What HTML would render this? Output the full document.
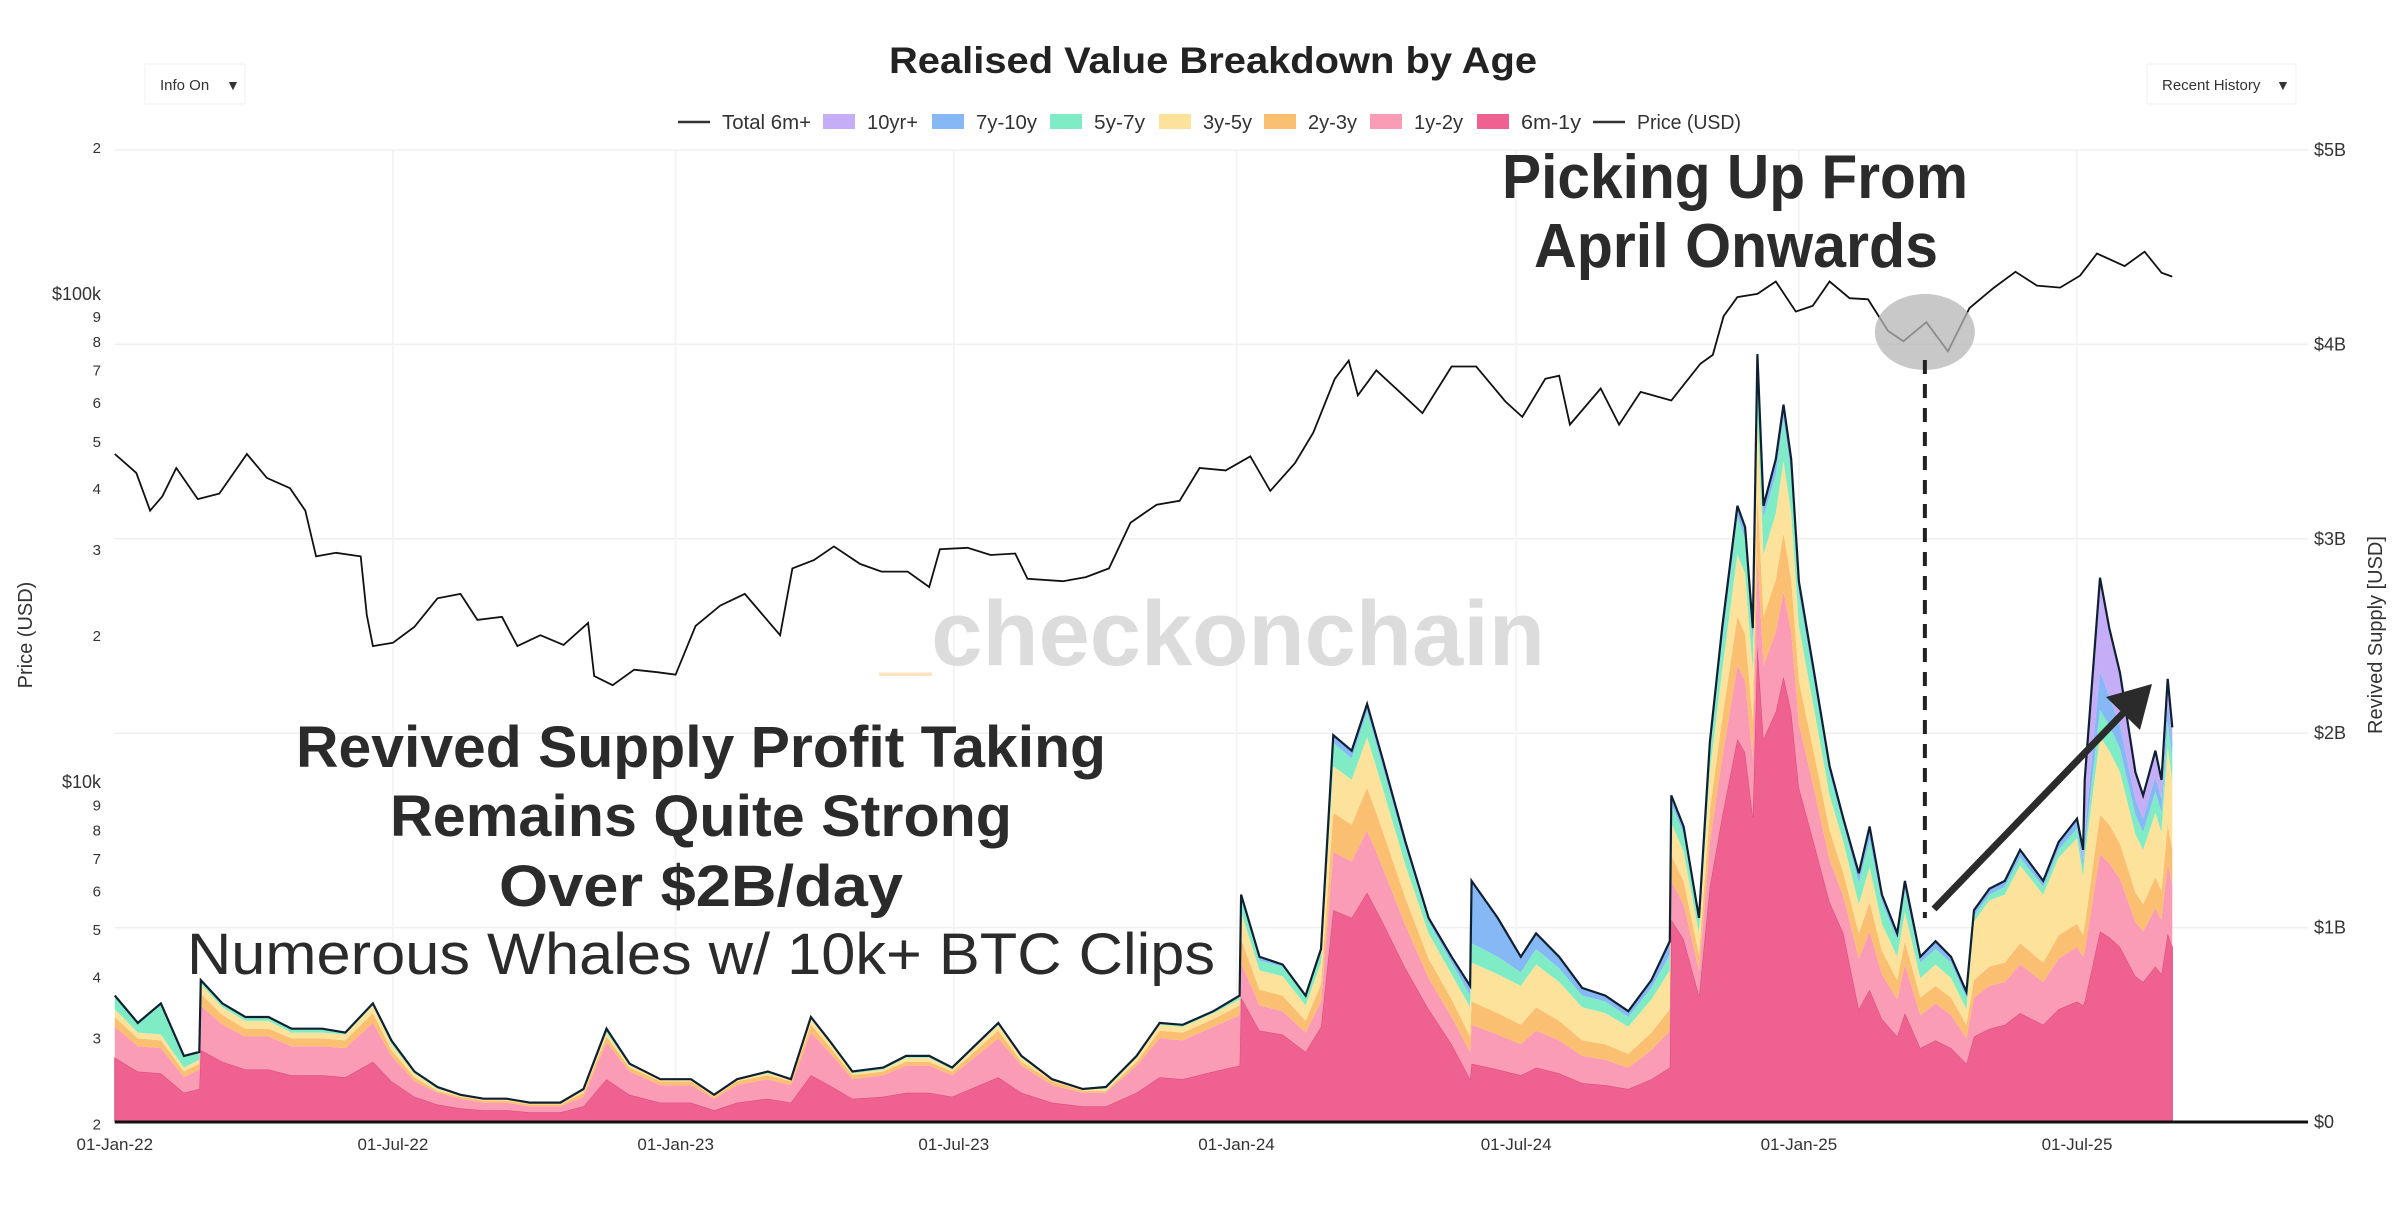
<!DOCTYPE html>
<html><head><meta charset="utf-8">
<style>
html,body{margin:0;padding:0;background:#fff;}
svg{display:block;font-family:"Liberation Sans",sans-serif;}
</style></head>
<body>
<svg id="chart" width="2400" height="1206" viewBox="0 0 2400 1206" xmlns="http://www.w3.org/2000/svg">
  <rect x="0" y="0" width="2400" height="1206" fill="#fff"/>
  <text x="1213" y="73" text-anchor="middle" font-size="37" font-weight="bold" fill="#222" textLength="648" lengthAdjust="spacingAndGlyphs">Realised Value Breakdown by Age</text>
  <g>
    <rect x="145" y="64" width="100" height="40" fill="#fff" stroke="#f2f2f2"/>
    <text x="160" y="90" font-size="15" fill="#333">Info On</text>
    <text x="226" y="90" font-size="14" fill="#333">▼</text>
  </g>
  <g>
    <rect x="2147" y="64" width="149" height="40" fill="#fff" stroke="#f2f2f2"/>
    <text x="2162" y="90" font-size="15" fill="#333">Recent History</text>
    <text x="2276" y="90" font-size="14" fill="#333">▼</text>
  </g>
  <g id="legend"></g>
  <g id="grid"></g>
  <text x="880" y="665" font-size="92" font-weight="bold" fill="#dcdcdc" textLength="665" lengthAdjust="spacingAndGlyphs"><tspan fill="#fde3c0">_</tspan>checkonchain</text>
  <g id="areas"></g>
  <g id="lines"></g>
  <g id="axes"></g>
  <g id="annot"></g>
</svg>
<script>
// ---------- data ----------
const bandNames = ["6m-1y","1y-2y","2y-3y","3y-5y","5y-7y","7y-10y","10yr+"];
const bandColors = ["#ee6190","#fb9cb6","#fbbf72","#fde29c","#80ecc6","#86b8f5","#c5aef7"];
const dayIdx = [0,15,30,45,55,56,70,85,100,115,135,150,168,180,195,210,225,240,255,270,290,305,320,335,355,375,390,405,425,440,453,465,480,500,515,530,545,575,590,610,630,645,665,680,695,715,732,733,745,760,775,785,793,805,815,825,840,855,870,882,883,900,915,925,940,955,970,985,1000,1012,1013,1021,1031,1038,1046,1056,1061,1066,1069,1073,1081,1086,1091,1096,1106,1116,1125,1135,1142,1150,1160,1165,1175,1185,1195,1205,1210,1220,1230,1240,1255,1265,1277,1281,1282,1292,1298,1305,1315,1320,1328,1332,1336,1339];
const b6m1y = [.33,.26,.25,.15,.17,.37,.31,.27,.27,.24,.24,.23,.31,.21,.13,.09,.07,.06,.06,.05,.05,.08,.22,.14,.1,.1,.06,.1,.12,.1,.24,.19,.12,.13,.15,.15,.13,.23,.15,.1,.08,.08,.15,.23,.22,.26,.29,.64,.47,.45,.36,.49,1.09,1.05,1.18,1.03,.79,.58,.4,.22,.3,.27,.24,.28,.25,.2,.19,.17,.22,.28,1.04,.94,.65,1.21,1.57,1.97,1.9,1.57,2.45,1.97,2.11,2.29,2.11,1.72,1.43,1.13,.97,.58,.68,.53,.44,.56,.38,.42,.38,.3,.44,.48,.5,.56,.5,.58,.62,.6,.62,.98,.95,.9,.75,.72,.8,.76,.97,.9];
const b1y2y = [.16,.13,.13,.08,.1,.23,.19,.17,.17,.15,.15,.15,.2,.13,.08,.06,.05,.04,.04,.03,.03,.05,.19,.12,.09,.09,.06,.09,.1,.09,.22,.17,.1,.11,.14,.14,.11,.2,.14,.09,.07,.07,.14,.2,.2,.23,.26,.18,.13,.12,.1,.13,.3,.29,.32,.28,.22,.16,.14,.14,.2,.18,.16,.19,.17,.14,.13,.11,.15,.19,.2,.18,.13,.23,.3,.38,.37,.3,.47,.38,.41,.44,.41,.33,.28,.22,.19,.26,.3,.23,.19,.25,.17,.19,.17,.13,.2,.22,.22,.25,.22,.26,.28,.25,.26,.4,.38,.35,.28,.26,.3,.28,.36,.32];
const b2y3y = [.05,.04,.04,.03,.03,.06,.05,.04,.04,.04,.04,.04,.05,.03,.02,.01,.01,.01,.01,.01,.01,.02,.03,.02,.02,.02,.01,.02,.02,.02,.04,.03,.02,.02,.02,.02,.02,.04,.02,.02,.01,.01,.02,.04,.04,.04,.05,.12,.08,.08,.06,.09,.2,.19,.22,.19,.14,.1,.09,.08,.12,.11,.1,.12,.1,.08,.08,.07,.09,.11,.13,.12,.08,.16,.2,.25,.24,.2,.32,.25,.27,.3,.27,.22,.18,.15,.12,.13,.15,.12,.1,.12,.09,.09,.09,.07,.09,.1,.1,.11,.1,.12,.12,.11,.13,.2,.2,.18,.15,.14,.16,.15,.2,.18];
const b3y5y = [.04,.03,.03,.02,.02,.05,.04,.04,.04,.03,.03,.03,.04,.03,.02,.01,.01,.01,.01,.01,.01,.01,.02,.01,.01,.01,.01,.01,.01,.01,.03,.02,.01,.01,.02,.02,.01,.03,.02,.01,.01,.01,.02,.03,.03,.03,.03,.14,.1,.1,.08,.11,.24,.23,.26,.22,.17,.13,.13,.15,.2,.2,.2,.22,.2,.17,.16,.14,.17,.2,.17,.15,.11,.2,.25,.32,.31,.25,.4,.32,.34,.37,.34,.28,.23,.18,.16,.15,.18,.14,.12,.15,.1,.11,.1,.08,.3,.34,.35,.4,.35,.4,.44,.3,.35,.4,.38,.37,.3,.28,.33,.3,.4,.36];
const b5y7y = [.07,.05,.16,.06,.04,.02,.02,.02,.02,.02,.02,.01,.01,.02,.01,.01,0,0,0,0,0,.01,.02,.01,0,0,0,0,.01,0,.01,.01,.01,.01,.01,.01,.01,.01,.01,0,0,.01,.01,.01,.01,.01,.02,.07,.05,.05,.04,.05,.12,.11,.13,.11,.09,.06,.06,.06,.1,.09,.07,.08,.07,.06,.06,.05,.06,.08,.1,.09,.06,.11,.15,.19,.18,.15,.24,.19,.2,.22,.2,.17,.14,.11,.09,.11,.14,.11,.09,.11,.08,.08,.08,.06,.03,.03,.04,.04,.04,.04,.05,.05,.06,.14,.13,.12,.1,.09,.11,.1,.13,.12];
const b7y10y = [0,0,0,0,0,0,0,0,0,0,0,0,0,0,0,0,0,0,0,0,0,0,0,0,0,0,0,0,0,0,0,0,0,0,0,0,0,0,0,0,0,0,0,0,0,0,0,.02,.02,.01,.01,.02,.04,.04,.04,.04,.03,.02,.03,.05,.32,.2,.08,.08,.06,.04,.03,.03,.04,.07,.04,.04,.02,.04,.07,.06,.06,.07,.07,.06,.08,.07,.08,.06,.05,.04,.03,.05,.07,.04,.03,.05,.03,.04,.03,.03,.03,.03,.03,.04,.03,.04,.05,.04,.06,.2,.15,.12,.08,.07,.08,.07,.1,.08];
const b10yr = [0,0,0,0,0,0,0,0,0,0,0,0,0,0,0,0,0,0,0,0,0,0,0,0,0,0,0,0,0,0,0,0,0,0,0,0,0,0,0,0,0,0,0,0,0,0,0,0,0,0,0,0,0,0,0,0,0,0,0,0,0,0,0,0,0,0,0,0,0,0,0,0,0,0,0,0,0,0,0,0,0,0,0,0,0,0,0,0,0,0,0,0,0,0,0,0,0,0,0,0,0,0,0,.05,.28,.48,.35,.27,.14,.12,.13,.1,.12,.07];
const priceDates = ["2022-01-01","2022-01-15","2022-01-24","2022-02-01","2022-02-10","2022-02-24","2022-03-10","2022-03-28","2022-04-10","2022-04-25","2022-05-05","2022-05-12","2022-05-25","2022-06-10","2022-06-14","2022-06-18","2022-07-01","2022-07-15","2022-07-30","2022-08-14","2022-08-25","2022-09-10","2022-09-20","2022-10-05","2022-10-20","2022-11-05","2022-11-09","2022-11-21","2022-12-05","2022-12-20","2023-01-01","2023-01-14","2023-01-30","2023-02-15","2023-03-10","2023-03-18","2023-04-01","2023-04-14","2023-05-01","2023-05-15","2023-06-01","2023-06-15","2023-06-22","2023-07-10","2023-07-25","2023-08-10","2023-08-18","2023-09-10","2023-09-25","2023-10-10","2023-10-24","2023-11-10","2023-11-25","2023-12-08","2023-12-25","2024-01-10","2024-01-23","2024-02-08","2024-02-20","2024-03-05","2024-03-14","2024-03-20","2024-04-01","2024-04-15","2024-05-01","2024-05-20","2024-06-05","2024-06-24","2024-07-05","2024-07-20","2024-07-29","2024-08-05","2024-08-25","2024-09-06","2024-09-20","2024-10-10","2024-10-29","2024-11-06","2024-11-13","2024-11-22","2024-12-05","2024-12-17","2024-12-30","2025-01-10","2025-01-21","2025-02-03","2025-02-15","2025-02-28","2025-03-10","2025-03-25","2025-04-08","2025-04-22","2025-05-08","2025-05-22","2025-06-05","2025-06-20","2025-07-03","2025-07-14","2025-08-01","2025-08-14","2025-08-25","2025-09-01"];
const priceVals = [47000,43000,36000,38500,44000,38000,39000,47000,42000,40000,36000,29000,29500,29000,22000,19000,19300,20800,23800,24300,21500,21800,19000,20000,19100,21200,16500,15800,17000,16800,16600,20900,23000,24300,20000,27400,28500,30400,28000,27000,27000,25100,30000,30200,29200,29400,26100,25800,26300,27400,34000,37000,37700,44000,43500,46500,39500,45000,52000,67000,73000,62000,69700,63500,57000,71000,71000,60200,56000,67000,68000,54000,64000,54000,63000,60500,72000,75000,90000,98500,100000,106000,92000,94500,106000,98000,97500,84000,80000,87500,76300,93500,103000,111000,104000,103000,109000,121000,114000,122000,110500,108500];
const xTickDates = ["2022-01-01","2022-07-01","2023-01-01","2023-07-01","2024-01-01","2024-07-01","2025-01-01","2025-07-01"];
const xTickLabels = ["01-Jan-22","01-Jul-22","01-Jan-23","01-Jul-23","01-Jan-24","01-Jul-24","01-Jan-25","01-Jul-25"];
const rightTicks = [0,1,2,3,4,5];
const rightTickLabels = ["$0","$1B","$2B","$3B","$4B","$5B"];
const leftTicks = [2000,3000,4000,5000,6000,7000,8000,9000,10000,20000,30000,40000,50000,60000,70000,80000,90000,100000,200000];
const leftTickLabels = ["2","3","4","5","6","7","8","9","$10k","2","3","4","5","6","7","8","9","$100k","2"];

// ---------- scales ----------
const NS="http://www.w3.org/2000/svg";
const X0=114.8, PXD=(2077-114.8)/1277, Y0=1122, PXB=194.4;
const T0=Date.UTC(2022,0,1);
function dayOf(s){const p=s.split("-");return (Date.UTC(+p[0],+p[1]-1,+p[2])-T0)/86400000;}
function xS(d){return X0+d*PXD;}
function yR(v){return Y0-v*PXB;}
function yL(p){return 293.9-(Math.log10(p)-5)*488.3;}
function mk(tag,attrs,parent){const e=document.createElementNS(NS,tag);for(const k in attrs)e.setAttribute(k,attrs[k]);parent.appendChild(e);return e;}

const grid=document.getElementById("grid"), areas=document.getElementById("areas"), lines=document.getElementById("lines"), axes=document.getElementById("axes"), annot=document.getElementById("annot"), legend=document.getElementById("legend");

// grid
rightTicks.forEach((v,i)=>{ if(v===0)return;
  const g=mk("line",{x1:X0,x2:2308,y1:yR(v),y2:yR(v),stroke:"#efefef","stroke-width":1.5},grid);
  
  
});
xTickDates.forEach((s,i)=>{ if(i===0)return;
  const g=mk("line",{x1:xS(dayOf(s)),x2:xS(dayOf(s)),y1:150,y2:Y0,stroke:"#f2f2f2","stroke-width":1.5},grid);
  
  
});

// stacked areas
const bands=[b6m1y,b1y2y,b2y3y,b3y5y,b5y7y,b7y10y,b10yr];
let cum=dayIdx.map(()=>0);
bands.forEach((b,bi)=>{
  const top=cum.map((c,i)=>c+b[i]);
  let d="M"+dayIdx.map((dd,i)=>xS(dd).toFixed(1)+","+yR(top[i]).toFixed(1)).join("L");
  for(let i=dayIdx.length-1;i>=0;i--) d+="L"+xS(dayIdx[i]).toFixed(1)+","+yR(cum[i]).toFixed(1);
  d+="Z";
  const p=mk("path",{d:d,fill:bandColors[bi],stroke:bi===0?"#d94a7a":"none","stroke-width":1},areas);
  
  
  cum=top;
});
const tl=mk("path",{d:"M"+dayIdx.map((dd,i)=>xS(dd).toFixed(1)+","+yR(cum[i]).toFixed(1)).join("L"),fill:"none",stroke:"#0f2033","stroke-width":2.2},lines);



// price line
const pl=mk("path",{d:"M"+priceDates.map((s,i)=>xS(dayOf(s)).toFixed(1)+","+yL(priceVals[i]).toFixed(1)).join("L"),fill:"none",stroke:"#111","stroke-width":1.8},lines);



// axes
const base=mk("line",{x1:X0,x2:2308,y1:Y0,y2:Y0,stroke:"#111","stroke-width":3},axes);


xTickDates.forEach((s,i)=>{
  const t=mk("text",{x:xS(dayOf(s)),y:1150,"text-anchor":"middle","font-size":17,fill:"#333"},axes);
  t.textContent=xTickLabels[i];
  
  
});
rightTicks.forEach((v,i)=>{
  const t=mk("text",{x:2314,y:yR(v)+6,"font-size":18,fill:"#333"},axes);
  t.textContent=rightTickLabels[i];
  
  
});
leftTicks.forEach((v,i)=>{
  const t=mk("text",{x:101,y:yL(v)+6,"text-anchor":"end","font-size":leftTickLabels[i].length>1?18:15,fill:"#333"},axes);
  t.textContent=leftTickLabels[i];
  
  
});
const lt=mk("text",{x:0,y:0,"text-anchor":"middle","font-size":20,fill:"#333",transform:"translate(32,635) rotate(-90)"},axes);
lt.textContent="Price (USD)";


const rt=mk("text",{x:0,y:0,"text-anchor":"middle","font-size":20,fill:"#333",transform:"translate(2382,635) rotate(-90)"},axes);
rt.textContent="Revived Supply [USD]";



// legend
const legItems=[["Total 6m+","line","#333"],["10yr+","box",bandColors[6]],["7y-10y","box",bandColors[5]],["5y-7y","box",bandColors[4]],["3y-5y","box",bandColors[3]],["2y-3y","box",bandColors[2]],["1y-2y","box",bandColors[1]],["6m-1y","box",bandColors[0]],["Price (USD)","line","#333"]];
const legX=[678,823,932,1050,1159,1264,1370,1477,1593];
const legTW=[89,51,61,51,49,49,49,60,104];
legItems.forEach((it,i)=>{
  const lx=legX[i];
  const g=mk("g",{},legend);
  
  
  if(it[1]==="line") mk("line",{x1:lx,x2:lx+32,y1:122,y2:122,stroke:it[2],"stroke-width":2.5},g);
  else mk("rect",{x:lx,y:114,width:32,height:15,fill:it[2]},g);
  const t=mk("text",{x:lx+44,y:129,"font-size":20,fill:"#333",textLength:legTW[i],lengthAdjust:"spacingAndGlyphs"},g);
  t.textContent=it[0];
});

// annotations
const ann=[["Picking Up From",1735,198,62,466,"bold"],["April Onwards",1736,267,62,404,"bold"],["Revived Supply Profit Taking",701,767,58,810,"bold"],["Remains Quite Strong",701,836,58,622,"bold"],["Over $2B/day",701,906,58,404,"bold"],["Numerous Whales w/ 10k+ BTC Clips",701,974,58,1028,"normal"]];
ann.forEach(a=>{
  const t=mk("text",{x:a[1],y:a[2],"text-anchor":"middle","font-size":a[3],"font-weight":a[5],fill:"#2b2b2b",textLength:a[4],lengthAdjust:"spacingAndGlyphs"},annot);
  t.textContent=a[0];
  
  
});
const cx=xS(dayOf("2025-03-24"));
const circ=mk("ellipse",{cx:cx,cy:332,rx:50,ry:38,fill:"#b5b5b5","fill-opacity":0.75},annot);


const dl=mk("line",{x1:cx,x2:cx,y1:360,y2:918,stroke:"#222","stroke-width":4,"stroke-dasharray":"14,10"},annot);


const ar=mk("line",{x1:1934,y1:909,x2:2132,y2:704,stroke:"#2b2b2b","stroke-width":7},annot);


const ah=mk("polygon",{points:"2152,684 2140,730 2106,697",fill:"#2b2b2b"},annot);


</script>
</body></html>
